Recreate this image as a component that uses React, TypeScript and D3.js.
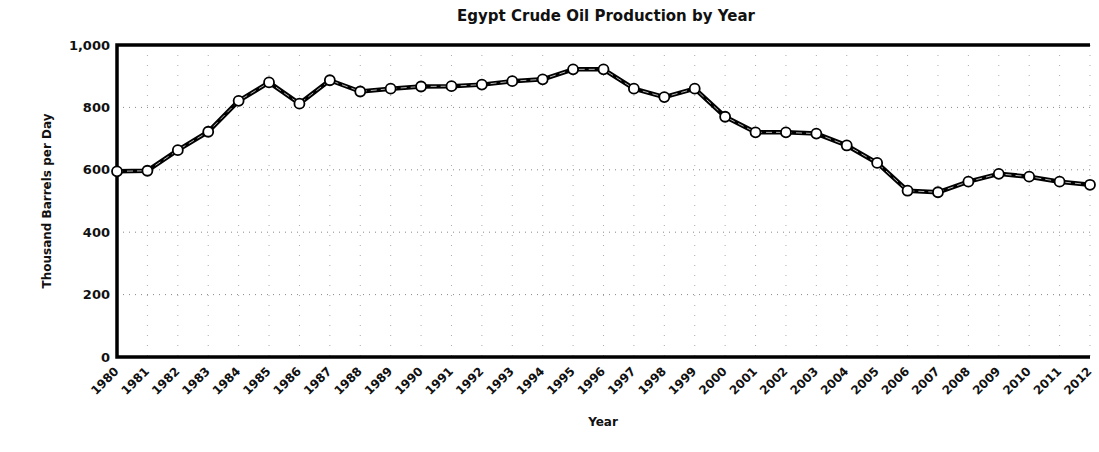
import React, { useEffect, useRef } from 'react';
import * as d3 from 'd3';

const years: number[] = [
  1980, 1981, 1982, 1983, 1984, 1985, 1986, 1987, 1988, 1989, 1990,
  1991, 1992, 1993, 1994, 1995, 1996, 1997, 1998, 1999, 2000, 2001,
  2002, 2003, 2004, 2005, 2006, 2007, 2008, 2009, 2010, 2011, 2012,
];

// thousand barrels per day
const production: number[] = [
  595, 597, 663, 722, 821, 880, 812, 887, 851, 860, 867,
  868, 873, 884, 890, 922, 922, 860, 833, 860, 770, 720,
  720, 716, 678, 622, 533, 528, 562, 587, 578, 562, 552,
];

const yTicks: number[] = [0, 200, 400, 600, 800, 1000];

const title = 'Egypt Crude Oil Production by Year';
const yTitle = 'Thousand Barrels per Day';
const xTitle = 'Year';

const W = 1099;
const H = 452;
const FONT = '"DejaVu Sans", Verdana, sans-serif';

const App: React.FC = () => {
  const svgRef = useRef<SVGSVGElement>(null);

  useEffect(() => {
    if (!svgRef.current) return;
    const svg = d3.select(svgRef.current);
    svg.selectAll('*').remove();

    const m = { left: 117, right: 1090, top: 45, bottom: 357 };

    const x = d3.scaleLinear()
      .domain([years[0], years[years.length - 1]])
      .range([m.left, m.right]);
    const y = d3.scaleLinear().domain([0, 1000]).range([m.bottom, m.top]);

    svg.append('rect').attr('width', W).attr('height', H).attr('fill', '#fff');

    // title
    svg.append('text')
      .attr('x', 606)
      .attr('y', 21)
      .attr('text-anchor', 'middle')
      .attr('font-family', FONT)
      .attr('font-weight', 'bold')
      .attr('font-size', 15)
      .attr('fill', '#111')
      .text(title);

    // grid lines
    const grid = svg.append('g').attr('stroke', '#888').attr('stroke-dasharray', '1,5');
    grid.selectAll('line.h')
      .data(yTicks.filter(t => t > 0 && t < 1000))
      .enter()
      .append('line')
      .attr('x1', m.left)
      .attr('x2', m.right)
      .attr('y1', d => y(d))
      .attr('y2', d => y(d));
    grid.selectAll('line.v')
      .data(years.slice(1))
      .enter()
      .append('line')
      .attr('x1', d => x(d))
      .attr('x2', d => x(d))
      .attr('y1', m.top)
      .attr('y2', m.bottom)
      .attr('stroke-dasharray', '1,9')
      .attr('stroke', '#aaa');

    // y axis
    const yAxis = d3.axisLeft(y)
      .tickValues(yTicks)
      .tickSize(0)
      .tickPadding(7)
      .tickFormat(d3.format(','));
    const gy = svg.append('g')
      .attr('transform', `translate(${m.left},0)`)
      .call(yAxis);
    gy.select('.domain').remove();
    gy.selectAll('text')
      .attr('font-family', FONT)
      .attr('font-weight', 'bold')
      .attr('font-size', 13)
      .attr('fill', '#111');

    // x axis
    const xAxis = d3.axisBottom(x)
      .tickValues(years)
      .tickSize(0)
      .tickFormat(d => String(d));
    const gx = svg.append('g')
      .attr('transform', `translate(0,${m.bottom})`)
      .call(xAxis);
    gx.select('.domain').remove();
    gx.selectAll('text')
      .attr('font-family', FONT)
      .attr('font-weight', 'bold')
      .attr('font-size', 12)
      .attr('fill', '#111')
      .attr('text-anchor', 'end')
      .attr('y', 0)
      .attr('dy', 0)
      .attr('transform', 'translate(2,15) rotate(-45)');

    // frame: left, top, bottom
    svg.append('path')
      .attr('d', `M${m.right},${m.top}H${m.left}V${m.bottom}H${m.right}`)
      .attr('fill', 'none')
      .attr('stroke', '#000')
      .attr('stroke-width', 3.5);

    // axis titles
    svg.append('text')
      .attr('transform', `translate(51,${(m.top + m.bottom) / 2}) rotate(-90)`)
      .attr('text-anchor', 'middle')
      .attr('font-family', FONT)
      .attr('font-weight', 'bold')
      .attr('font-size', 12)
      .attr('fill', '#111')
      .text(yTitle);

    svg.append('text')
      .attr('x', 603)
      .attr('y', 426)
      .attr('text-anchor', 'middle')
      .attr('font-family', FONT)
      .attr('font-weight', 'bold')
      .attr('font-size', 12)
      .attr('fill', '#111')
      .text(xTitle);

    // series
    const pts = years.map((yr, i) => ({ yr, v: production[i] }));
    const line = d3.line<{ yr: number; v: number }>()
      .x(d => x(d.yr))
      .y(d => y(d.v));

    svg.append('path')
      .datum(pts)
      .attr('d', line)
      .attr('fill', 'none')
      .attr('stroke', '#000')
      .attr('stroke-width', 4.5)
      .attr('stroke-linejoin', 'round');
    svg.append('path')
      .datum(pts)
      .attr('d', line)
      .attr('fill', 'none')
      .attr('stroke', '#fff')
      .attr('stroke-width', 1)
      .attr('stroke-dasharray', '6,4')
      .attr('opacity', 0.7);

    svg.selectAll('circle.pt')
      .data(pts)
      .enter()
      .append('circle')
      .attr('cx', d => x(d.yr))
      .attr('cy', d => y(d.v))
      .attr('r', 5)
      .attr('fill', '#fff')
      .attr('stroke', '#000')
      .attr('stroke-width', 1.8);
  }, []);

  return (
    <svg
      ref={svgRef}
      width={W}
      height={H}
      style={{ position: 'absolute', left: 0, top: 0, display: 'block' }}
    />
  );
};

export default App;
